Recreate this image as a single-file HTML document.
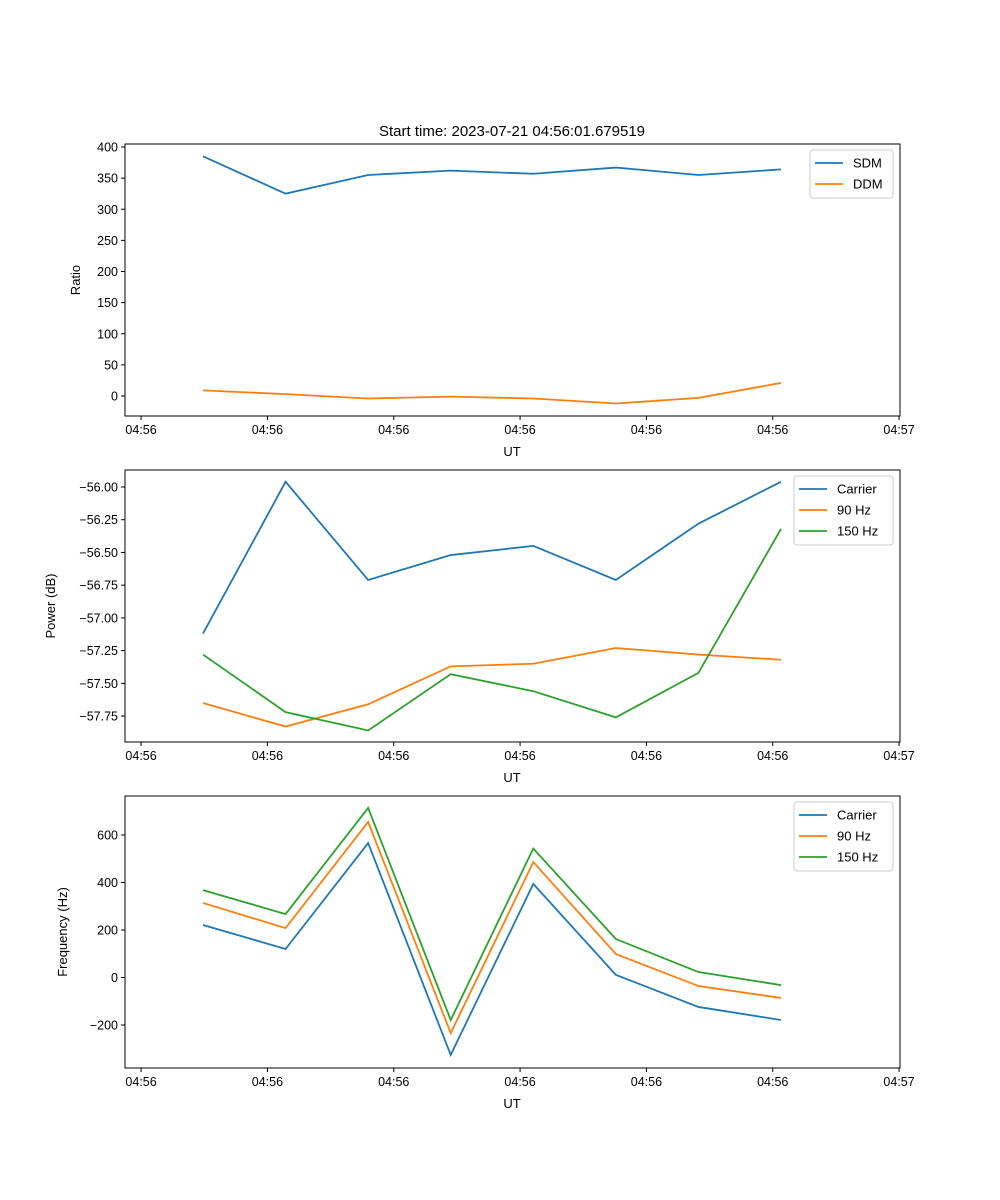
<!DOCTYPE html>
<html><head><meta charset="utf-8">
<style>
body{margin:0;background:#fff;}
svg{display:block;font-family:"Liberation Sans","DejaVu Sans",sans-serif;}
</style></head>
<body>
<svg id="chart" width="1000" height="1200" viewBox="0 0 1000 1200" xmlns="http://www.w3.org/2000/svg">
<rect width="1000" height="1200" fill="#fff"/>
<text x="512" y="136" font-size="15" text-anchor="middle">Start time: 2023-07-21 04:56:01.679519</text>
</svg>
<script>
// Shared x data (sample index)
const sampleIdx = [0,1,2,3,4,5,6,7];
const xTickVals = [-0.75,0.78,2.31,3.84,5.37,6.90,8.43];
const xTickLabels = ["04:56","04:56","04:56","04:56","04:56","04:56","04:57"];

// Panel 1: Ratio
const p1Ticks = [0,50,100,150,200,250,300,350,400];
const sdm = [385,325,355,362,357,367,355,364];
const ddm = [9,3,-4,-1,-4,-12,-3,21];

// Panel 2: Power
const p2Ticks = [-56.00,-56.25,-56.50,-56.75,-57.00,-57.25,-57.50,-57.75];
const powCarrier = [-57.12,-55.96,-56.71,-56.52,-56.45,-56.71,-56.28,-55.96];
const pow90 = [-57.65,-57.83,-57.66,-57.37,-57.35,-57.23,-57.28,-57.32];
const pow150 = [-57.28,-57.72,-57.86,-57.43,-57.56,-57.76,-57.42,-56.32];

// Panel 3: Frequency
const p3Ticks = [-200,0,200,400,600];
const freqCarrier = [221,120,566,-326,394,11,-124,-179];
const freq90 = [314,208,655,-234,486,99,-36,-86];
const freq150 = [368,267,714,-179,543,162,23,-32];

const NS="http://www.w3.org/2000/svg";
const svg=document.getElementById('chart');
const BLUE="#1f77b4",ORANGE="#ff7f0e",GREEN="#2ca02c";
function mk(tag,attrs,parent){const e=document.createElementNS(NS,tag);for(const k in attrs)e.setAttribute(k,attrs[k]);(parent||svg).appendChild(e);return e;}
const L=125,R=900;
function xs(v){return 203+(v-0)*(781-203)/7;}

function panel(top,bottom,yScale,yTicks,fmt,ylabel,series,legendW,pname){
  const g=mk('g',{});
  
  
  series.forEach((s,si)=>{
    const pts=sampleIdx.map((i)=>xs(i)+','+yScale(s.vals[i])).join(' ');
    const pl=mk('polyline',{points:pts,fill:'none',stroke:s.color,'stroke-width':1.8},g);
    
    
  });
  const fr=mk('rect',{x:L,y:top,width:R-L,height:bottom-top,fill:'none',stroke:'#000','stroke-width':1},g);
  
  
  xTickVals.forEach((v,i)=>{
    const x=xs(v);
    mk('line',{x1:x,x2:x,y1:bottom,y2:bottom+4,stroke:'#000'},g);
    const t=mk('text',{x:x,y:bottom+18,'font-size':12.5,'text-anchor':'middle'},g);
    t.textContent=xTickLabels[i];
    
    
  });
  yTicks.forEach(v=>{
    const y=yScale(v);
    mk('line',{x1:L-4,x2:L,y1:y,y2:y,stroke:'#000'},g);
    const t=mk('text',{x:L-7,y:y+4.5,'font-size':12.5,'text-anchor':'end'},g);
    t.textContent=fmt(v);
    
    
  });
  const xl=mk('text',{x:512,y:bottom+40,'font-size':13,'text-anchor':'middle'},g);
  xl.textContent='UT';
  
  
  const cy=(top+bottom)/2;
  const lx = ylabel==='Ratio'?80:(ylabel==='Power (dB)'?55:67);
  const yl=mk('text',{x:lx,y:cy,'font-size':13,'text-anchor':'middle',transform:`rotate(-90 ${lx} ${cy})`},g);
  yl.textContent=ylabel;
  
  
  // legend
  const lg=mk('g',{},g);
  
  
  const lx0=R-7-legendW, ly0=top+6;
  mk('rect',{x:lx0,y:ly0,width:legendW,height:series.length*21+6,fill:'#fff',stroke:'#ccc',rx:3},lg);
  series.forEach((s,i)=>{
    const y=ly0+13+i*21;
    mk('line',{x1:lx0+5,x2:lx0+33,y1:y,y2:y,stroke:s.color,'stroke-width':1.8},lg);
    const t=mk('text',{x:lx0+43,y:y+4.5,'font-size':13},lg);
    t.textContent=s.label;
    
    
  });
}
panel(144,416,v=>396-v*0.6225,p1Ticks,v=>String(v),'Ratio',
  [{vals:sdm,color:BLUE,label:'SDM',key:'sdm'},{vals:ddm,color:ORANGE,label:'DDM',key:'ddm'}],83,'ratio-panel');
panel(470,742,v=>487+(-56-v)*130.9,p2Ticks,v=>'\u2212'+Math.abs(v).toFixed(2),'Power (dB)',
  [{vals:powCarrier,color:BLUE,label:'Carrier',key:'carrier'},{vals:pow90,color:ORANGE,label:'90 Hz',key:'90hz'},{vals:pow150,color:GREEN,label:'150 Hz',key:'150hz'}],99,'power-panel');
panel(796,1068,v=>977.5-v*0.2375,p3Ticks,v=>v<0?'\u2212'+Math.abs(v):String(v),'Frequency (Hz)',
  [{vals:freqCarrier,color:BLUE,label:'Carrier',key:'carrier'},{vals:freq90,color:ORANGE,label:'90 Hz',key:'90hz'},{vals:freq150,color:GREEN,label:'150 Hz',key:'150hz'}],99,'frequency-panel');
</script>
</body></html>
